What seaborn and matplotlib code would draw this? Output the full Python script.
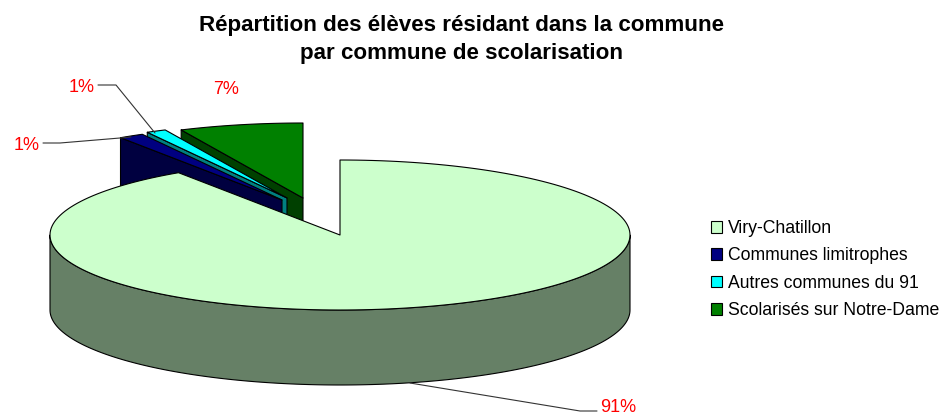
import numpy as np
import seaborn as sns
import matplotlib.pyplot as plt
from matplotlib.patches import Patch, Polygon

categories = ['Viry-Chatillon', 'Communes limitrophes', 'Autres communes du 91', 'Scolarisés sur Notre-Dame']
shares = [90.6, 1.4, 1.1, 6.9]
title_lines = ['Répartition des élèves résidant dans la commune', 'par commune de scolarisation']

colors = ['#CCFFCC', '#000080', '#00FFFF', '#008000']

# pie geometry in pixels
CX, CY = 340, 235
RX, RY = 290, 75
DEPTH = 75
explode = [(0, 0), (-58, -35), (-53, -37), (-37, -37)]
label_pos = [(618, 408), (27, 145), (82, 87), (226, 89)]
leaders = [
    [(410, 383), (580, 411), (597, 411)],
    [(43, 143), (60, 143), (120, 138), (131, 137)],
    [(98, 85), (116, 85), (155, 133)],
]

sns.set_theme(style='white')
plt.rcParams['font.family'] = ['Liberation Sans', 'DejaVu Sans']

fig, ax = plt.subplots(figsize=(9.41, 4.16), dpi=100)
ax.set_position([0, 0, 1, 1])
ax.set_xlim(0, 941)
ax.set_ylim(416, 0)
ax.axis('off')


def arc(a0, a1, ox=0, oy=0):
    t = np.radians(np.linspace(a0, a1, 200))
    return np.column_stack([CX + ox + RX * np.sin(t), CY + oy - RY * np.cos(t)])


def shade(c):
    return tuple(v / 2 for v in sns.color_palette([c])[0])


edges = np.cumsum([0] + shares) * 3.6
draw_order = [3, 2, 1, 0]
for z, i in enumerate(draw_order):
    a0, a1 = edges[i], edges[i + 1]
    ox, oy = explode[i]
    top = arc(a0, a1, ox, oy)
    apex = (CX + ox, CY + oy)
    style = dict(ec='black', lw=0.8, joinstyle='round', zorder=z + 2)
    if i == 0:
        # outer wall, only the front half shows
        front = arc(90, 270)
        wall = np.vstack([front, (front + [0, DEPTH])[::-1]])
    else:
        # cut face on the side of the first angle
        cut = np.array([top[0], apex])
        wall = np.vstack([cut, (cut + [0, DEPTH])[::-1]])
    ax.add_patch(Polygon(wall, fc=shade(colors[i]), **style))
    ax.add_patch(Polygon(np.vstack([top, apex]), fc=colors[i], **style))

for line in leaders:
    xs, ys = zip(*line)
    ax.plot(xs, ys, color='#333333', lw=0.8, zorder=10)

for share, (x, y) in zip(shares, label_pos):
    ax.text(x, y, f'{share:.0f}%', color='#FF0000', fontsize=13, ha='center', va='center', zorder=11)

ax.text(462, 25, title_lines[0], fontsize=16.1, fontweight='bold', color='black', ha='center', va='center')
ax.text(462, 53, title_lines[1], fontsize=16.1, fontweight='bold', color='black', ha='center', va='center')

handles = [Patch(fc=c, ec='black', lw=0.8) for c in colors]
ax.legend(handles, categories, loc='upper left', bbox_to_anchor=(711 / 941, 1 - 220 / 416),
          frameon=False, fontsize=12.7, labelcolor='black', handlelength=0.62, handleheight=0.62,
          handletextpad=0.34, labelspacing=0.59, borderpad=0, borderaxespad=0)

plt.savefig('out.png', dpi=100)
